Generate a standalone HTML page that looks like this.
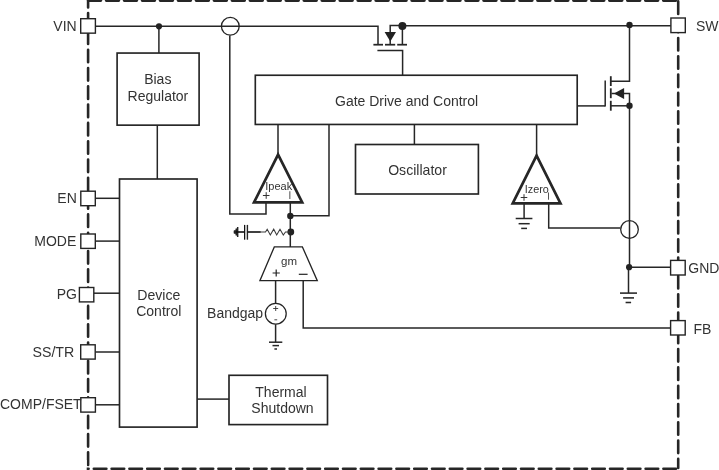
<!DOCTYPE html>
<html>
<head>
<meta charset="utf-8">
<title>Block Diagram</title>
<style>
html,body{margin:0;padding:0;background:#fff;}
body{width:719px;height:470px;overflow:hidden;}
svg{display:block;will-change:transform;}
text{font-family:"Liberation Sans",sans-serif;fill:#333;}
</style>
</head>
<body>
<svg width="719" height="470" viewBox="0 0 719 470">
<rect x="0" y="0" width="719" height="470" fill="#fff"/>

<!-- dashed border -->
<g stroke="#262626" fill="none" stroke-linecap="round">
  <line x1="88.4" y1="0.3" x2="678.6" y2="0.3" stroke-width="3.2" stroke-dasharray="12.3 5.672"/>
  <line x1="88.1" y1="-5.2" x2="88.1" y2="467" stroke-width="2.6" stroke-dasharray="12.6 5.7"/>
  <line x1="678.2" y1="1.4" x2="678.2" y2="468" stroke-width="2.6" stroke-dasharray="12.5 5.8"/>
  <line x1="76.0" y1="468.7" x2="678.4" y2="468.7" stroke-width="2.6" stroke-dasharray="12.6 5.2"/>
</g>
<rect x="70" y="460" width="16.7" height="10" fill="#fff"/>

<!-- wires -->
<g stroke="#262626" stroke-width="1.5" fill="none" stroke-linecap="butt" stroke-linejoin="miter">
  <!-- VIN line -->
  <polyline points="95.4,26.3 378,26.3 378,44.7"/>
  <line x1="158.9" y1="26" x2="158.9" y2="53"/>
  <line x1="157.3" y1="125" x2="157.3" y2="179"/>
  <!-- circle top sense -->
  <polyline points="229.8,35.5 229.8,214 266,214 266,202"/>
  <!-- pins left -->
  <line x1="95.3" y1="198.3" x2="119.5" y2="198.3"/>
  <line x1="95.3" y1="241.1" x2="119.5" y2="241.1"/>
  <line x1="93.8" y1="293.2" x2="119.5" y2="293.2"/>
  <line x1="95.2" y1="352" x2="119.5" y2="352"/>
  <line x1="95.4" y1="404.8" x2="119.5" y2="404.8"/>
  <!-- thermal -->
  <line x1="197" y1="399.1" x2="229" y2="399.1"/>
  <!-- top mosfet -->
  <line x1="373.4" y1="44.7" x2="383" y2="44.7" stroke-width="1.75"/>
  <line x1="385" y1="44.7" x2="395.2" y2="44.7" stroke-width="1.75"/>
  <line x1="397.2" y1="44.7" x2="407" y2="44.7" stroke-width="1.75"/>
  <polyline points="390.2,44.7 390.2,25.6 402.4,25.6"/>
  <line x1="402.4" y1="25.6" x2="402.4" y2="44.7"/>
  <polyline points="377.4,50.6 402.6,50.6 402.6,75"/>
  <!-- SW line -->
  <line x1="402.4" y1="25.7" x2="670.9" y2="25.7"/>
  <!-- low side mosfet -->
  <polyline points="629.5,25.5 629.5,81.3 610.8,81.3"/>
  <line x1="610.8" y1="76.2" x2="610.8" y2="86" stroke-width="1.8"/>
  <line x1="610.8" y1="88.3" x2="610.8" y2="98.2" stroke-width="1.8"/>
  <line x1="610.8" y1="100.8" x2="610.8" y2="110.7" stroke-width="1.8"/>
  <line x1="605.2" y1="80.5" x2="605.2" y2="106.6"/>
  <line x1="577" y1="105.9" x2="605.2" y2="105.9"/>
  <polyline points="611.5,93.6 629.5,93.6 629.5,106.2"/>
  <line x1="610.8" y1="105.8" x2="629.5" y2="105.8"/>
  <line x1="629.5" y1="106.2" x2="629.5" y2="267.3"/>
  <line x1="628.5" y1="267.3" x2="628.5" y2="293"/>
  <!-- gnd pin -->
  <line x1="629.5" y1="267.3" x2="670.5" y2="267.3"/>
  <!-- ground symbol right -->
  <line x1="620" y1="293.1" x2="637" y2="293.1" stroke-width="1.55"/>
  <line x1="623.1" y1="297.9" x2="634" y2="297.9" stroke-width="1.55"/>
  <line x1="625.6" y1="302.5" x2="631.1" y2="302.5" stroke-width="1.55"/>
  <!-- gate drive to osc -->
  <line x1="414.4" y1="124.5" x2="414.4" y2="144.5"/>
  <!-- gate drive to ipeak -->
  <line x1="278" y1="124.5" x2="278" y2="155.5"/>
  <!-- gate drive right line down -->
  <polyline points="329,124.5 329,215.8 290.3,215.8"/>
  <!-- ipeak out to gm -->
  <line x1="290.3" y1="202" x2="290.3" y2="247"/>
  <!-- izero -->
  <line x1="536.6" y1="124.5" x2="536.6" y2="156"/>
  <line x1="524.1" y1="203" x2="524.1" y2="218.5"/>
  <line x1="515.7" y1="218.5" x2="532.4" y2="218.5"/>
  <line x1="518.6" y1="223.7" x2="529.7" y2="223.7"/>
  <line x1="521.2" y1="228.4" x2="527" y2="228.4"/>
  <polyline points="548.7,203 548.7,228.1 620.5,228.1"/>
  <!-- gm -->
  <line x1="275.6" y1="281" x2="275.6" y2="303"/>
  <line x1="275.6" y1="324.3" x2="275.6" y2="342.2"/>
  <line x1="269" y1="342.2" x2="282.3" y2="342.2"/>
  <line x1="272.5" y1="345.6" x2="279" y2="345.6"/>
  <line x1="274.4" y1="349" x2="277" y2="349"/>
  <polyline points="303.2,281 303.2,328.1 670.5,328.1"/>
</g>

<!-- boxes -->
<g stroke="#242424" stroke-width="1.65" fill="#fff">
  <rect x="117.1" y="53.05" width="82" height="72.1"/>
  <rect x="119.5" y="179" width="77.6" height="248.1"/>
  <rect x="229" y="375.3" width="98.5" height="49.3"/>
  <rect x="255.3" y="75.25" width="321.9" height="49.2"/>
  <rect x="355.5" y="144.5" width="122.9" height="49.5"/>
  <!-- pins -->
  <rect x="80.7" y="18.7" width="14.7" height="14.45" stroke-width="1.4"/>
  <rect x="80.8" y="191.2" width="14.5" height="14.5" stroke-width="1.4"/>
  <rect x="80.8" y="234.0" width="14.5" height="14.4" stroke-width="1.4"/>
  <rect x="79.4" y="287.5" width="14.4" height="14.4" stroke-width="1.4"/>
  <rect x="80.7" y="344.8" width="14.5" height="14.3" stroke-width="1.4"/>
  <rect x="80.8" y="397.7" width="14.6" height="14.4" stroke-width="1.4"/>
  <rect x="670.9" y="18.0" width="14.4" height="14.6" stroke-width="1.4"/>
  <rect x="670.6" y="260.4" width="14.6" height="14.6" stroke-width="1.4"/>
  <rect x="670.6" y="320.6" width="14.6" height="14.4" stroke-width="1.4"/>
  <!-- circles -->
  <circle cx="230.3" cy="26.3" r="8.9" fill="none" stroke-width="1.3"/>
  <circle cx="629.5" cy="229.5" r="8.8" fill="none" stroke-width="1.3"/>
  <circle cx="275.8" cy="313.7" r="10.4" stroke-width="1.25"/>
  <!-- gm trapezoid -->
  <polygon points="274.3,246.9 302.4,246.9 317.3,280.7 259.9,280.7" stroke-width="1.3"/>
</g>

<!-- triangles -->
<g stroke="#262626" stroke-width="2.7" fill="#fff" stroke-linejoin="miter">
  <polygon points="278.1,154.6 302.2,202.4 254.0,202.4"/>
  <polygon points="536.6,155.6 560.5,203.3 512.7,203.3"/>
</g>

<!-- filled things -->
<g fill="#222" stroke="none">
  <circle cx="159" cy="26.3" r="3.1"/>
  <circle cx="402.4" cy="26.1" r="4"/>
  <circle cx="629.5" cy="25" r="3.2"/>
  <circle cx="629.5" cy="105.8" r="3.2"/>
  <circle cx="629.1" cy="267.2" r="3.1"/>
  <circle cx="290.3" cy="215.9" r="3.2"/>
  <circle cx="290.8" cy="232" r="3.4"/>
  <polygon points="384.6,32.1 396,32.1 390.3,41.4"/>
  <polygon points="613.9,93.6 624.1,88 624.1,99.1"/>
  <!-- small ground at cap -->
  <path d="M238.4,226.9V237.1H237L236.8,235.6H235.6L235.4,233.8H233.9L233.6,232L233.9,230.2H235.4L235.6,228.4H236.8L237,226.9Z"/>
</g>

<!-- cap + resistor -->
<g fill="none">
  <rect x="244.8" y="225" width="2.6" height="14.6" fill="#bdbdbd" stroke="none"/>
  <line x1="244.5" y1="224.9" x2="244.5" y2="239.7" stroke="#111" stroke-width="1"/>
  <line x1="247.6" y1="224.9" x2="247.6" y2="239.7" stroke="#111" stroke-width="1"/>
  <line x1="236" y1="232" x2="244.5" y2="232" stroke="#111" stroke-width="1.6"/>
  <line x1="247.4" y1="232" x2="260.8" y2="232" stroke="#111" stroke-width="1.6"/>
  <polyline points="260.8,232 265.5,232 267.2,229.2 270.3,235 273.7,229.2 276.7,235 280,229.2 283.3,235 285.5,232 290,232" stroke="#3a3a3a" stroke-width="1.05"/>
</g>

<!-- text -->
<g font-size="14px">
  <text x="53.3" y="30.6">VIN</text>
  <text x="57.3" y="202.8">EN</text>
  <text x="34.3" y="245.8">MODE</text>
  <text x="56.7" y="299.2">PG</text>
  <text x="32.5" y="356.5" font-size="14.2px">SS/TR</text>
  <text x="0" y="409.4">COMP/FSET</text>
  <text x="696" y="30.8">SW</text>
  <text x="688.3" y="272.8">GND</text>
  <text x="693.5" y="333.5">FB</text>
  <text x="157.8" y="84.4" text-anchor="middle">Bias</text>
  <text x="157.9" y="100.7" text-anchor="middle">Regulator</text>
  <text x="158.8" y="300" font-size="14.1px" text-anchor="middle">Device</text>
  <text x="158.8" y="316" text-anchor="middle">Control</text>
  <text x="281" y="397.3" text-anchor="middle">Thermal</text>
  <text x="282.5" y="412.9" text-anchor="middle">Shutdown</text>
  <text x="406.6" y="105.6" text-anchor="middle">Gate Drive and Control</text>
  <text x="417.5" y="174.5" font-size="14.1px" text-anchor="middle">Oscillator</text>
  <text x="207.1" y="317.5">Bandgap</text>
</g>
<g font-size="10.5px" style="fill:#444">
  <text x="278.7" y="189.7" font-size="11px" text-anchor="middle">Ipeak</text>
  <text x="536.8" y="192.9" font-size="10.8px" text-anchor="middle">Izero</text>
</g>
<text x="289" y="265.3" font-size="11.5px" text-anchor="middle">gm</text>
<g stroke="#222" stroke-width="1.2" fill="none">
  <!-- ipeak + -->
  <path d="M262.9,195.5H269.5 M266.2,192.2V198.8" stroke-width="1" stroke="#333"/>
  <!-- izero + -->
  <path d="M520.7,197.5H527.3 M524,194.2V200.8" stroke-width="1" stroke="#333"/>
  <!-- gm + -->
  <path d="M272.6,273H279.8 M276.2,269.4V276.6"/>
  <!-- gm - -->
  <path d="M298.8,274.3H307.6"/>
</g>
<g stroke="#333" stroke-width="0.9" fill="none">
  <path d="M273.2,308.5H278.2 M275.7,306V311"/>
  <path d="M274.4,319.8H277.2"/>
</g>
<line x1="289.8" y1="191.2" x2="289.8" y2="199" stroke="#777" stroke-width="1.3"/>
<line x1="548.5" y1="192.5" x2="548.5" y2="199.7" stroke="#555" stroke-width="1"/>
</svg>
</body>
</html>
